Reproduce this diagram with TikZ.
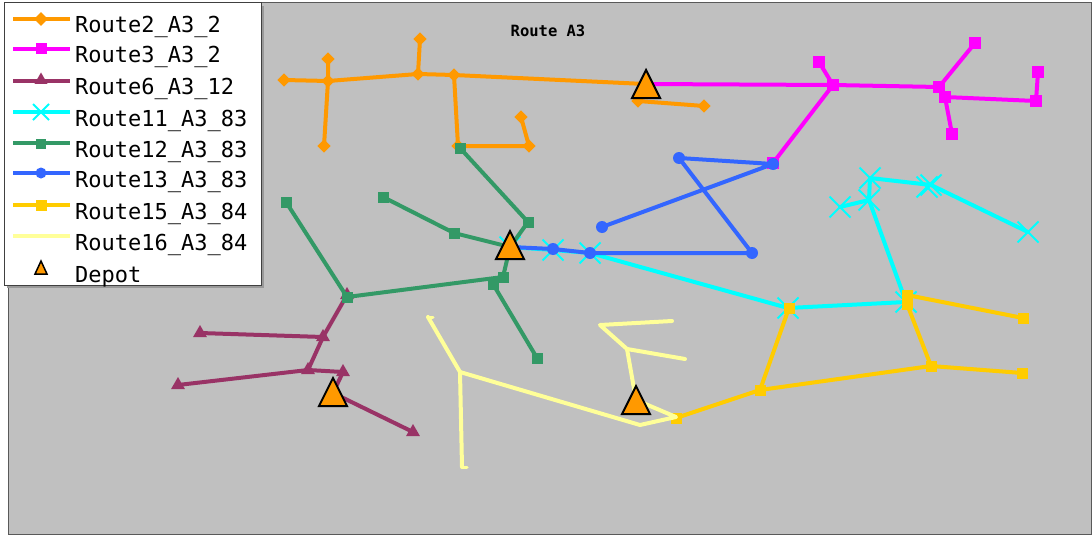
\documentclass[tikz,border=0pt]{standalone}
\usepackage{fontspec}
\newfontfamily\monof{DejaVu Sans Mono}
\usetikzlibrary{shapes.geometric,shapes.misc}
\definecolor{bgc}{HTML}{C0C0C0}
\definecolor{orgc}{HTML}{FF9900}
\definecolor{magc}{HTML}{FF00FF}
\definecolor{marc}{HTML}{993366}
\definecolor{cyac}{HTML}{00FFFF}
\definecolor{grnc}{HTML}{339966}
\definecolor{bluc}{HTML}{3366FF}
\definecolor{golc}{HTML}{FFCC00}
\definecolor{lyec}{HTML}{FFFF99}
\definecolor{depc}{HTML}{FF9900}
\tikzset{
  rt/.style={line width=4pt, line join=round, line cap=round},
  dia/.style={diamond, fill=orgc, inner sep=0pt, minimum size=13.5pt},
  sqm/.style={rectangle, fill=magc, inner sep=0pt, minimum size=11.5pt},
  trim/.style={regular polygon, regular polygon sides=3, fill=marc, inner sep=0pt, minimum size=16pt},
  xm/.style={cross out, draw=cyac, line width=2pt, inner sep=0pt, minimum size=19pt},
  sqg/.style={rectangle, fill=grnc, inner sep=0pt, minimum size=11pt},
  circb/.style={circle, fill=bluc, inner sep=0pt, minimum size=12pt},
  sqy/.style={rectangle, fill=golc, inner sep=0pt, minimum size=11pt},
  depot/.style={fill=depc, draw=black, line width=2pt, line join=miter},
  legtxt/.style={anchor=base west, inner sep=0pt, font=\monof\fontsize{22}{22}\selectfont},
}
\begin{document}
\begin{tikzpicture}[x=1pt,y=-1pt]
\useasboundingbox (0,0) rectangle (1092,535);
\fill[white] (0,0) rectangle (1092,535);
\filldraw[fill=bgc, draw=gray!70!black, line width=1pt] (8,3) rectangle (1091,534);
\node[inner sep=0pt, anchor=base, font=\monof\bfseries\fontsize{15.5}{15.5}\selectfont] (title) at (548,37) {Route A3};

% ---------- Route2 (orange)
\coordinate (o1) at (284,80);  \coordinate (o2) at (328,81);
\coordinate (o3) at (328,59);  \coordinate (o4) at (324,146);
\coordinate (o5) at (418,74);  \coordinate (o6) at (420,39);
\coordinate (o7) at (454,75);  \coordinate (o8) at (458,146);
\coordinate (o9) at (529,146); \coordinate (o10) at (521,117);
\coordinate (o11) at (645,84); \coordinate (o12) at (638,101);
\coordinate (o13) at (704,106);
\draw[rt, orgc] (o1) -- (o2) -- (o5) -- (o7) -- (o11) -- (o12) -- (o13);
\draw[rt, orgc] (o3) -- (o2) -- (o4);
\draw[rt, orgc] (o6) -- (o5);
\draw[rt, orgc] (o7) -- (o8) -- (o9) -- (o10);
\foreach \n in {o1,o2,o3,o4,o5,o6,o7,o8,o9,o10,o12,o13} \node[dia] (\n-m) at (\n) {};

% ---------- Route3 (magenta)
\coordinate (m0) at (646,84);  \coordinate (m1) at (833,85);
\coordinate (m2) at (819,62);  \coordinate (m3) at (773,163);
\coordinate (m4) at (939,87);  \coordinate (m5) at (975,43);
\coordinate (m6) at (945,97);  \coordinate (m7) at (952,134);
\coordinate (m8) at (1036,101); \coordinate (m9) at (1038,72);
\draw[rt, magc] (m0) -- (m1) -- (m4) -- (m6) -- (m8) -- (m9);
\draw[rt, magc] (m2) -- (m1) -- (m3);
\draw[rt, magc] (m4) -- (m5);
\draw[rt, magc] (m6) -- (m7);
\foreach \n in {m1,m2,m3,m4,m5,m6,m7,m8,m9} \node[sqm] (\n-m) at (\n) {};

% ---------- Route6 (maroon)
\coordinate (r1) at (347,295); \coordinate (r2) at (323,337);
\coordinate (r3) at (200,333); \coordinate (r4) at (308,370);
\coordinate (r5) at (178,385); \coordinate (r6) at (343,372);
\coordinate (r7) at (333,393); \coordinate (r8) at (413,432);
\draw[rt, marc] (r1) -- (r2) -- (r4) -- (r6) -- (r7) -- (r8);
\draw[rt, marc] (r2) -- (r3);
\draw[rt, marc] (r4) -- (r5);
\foreach \n in {r1,r2,r3,r4,r5,r6,r8} \node[trim] (\n-m) at (\n) {};

% ---------- Route11 (cyan)
\coordinate (c0) at (510,247); \coordinate (c1) at (553,250);
\coordinate (c2) at (590,253); \coordinate (c3) at (788,308);
\coordinate (c4) at (906,302); \coordinate (c5) at (869,200);
\coordinate (c6) at (840,207); \coordinate (c7) at (870,178);
\coordinate (c8) at (931,185); \coordinate (c8b) at (927,187);
\coordinate (c9) at (1028,232);
\draw[rt, cyac] (c0) -- (c1) -- (c2) -- (c3) -- (c4) -- (c5) -- (c6);
\draw[rt, cyac] (c5) -- (c7) -- (c8) -- (c9);
\foreach \n in {c0,c1,c2,c3,c4,c5,c6,c7,c8,c8b,c9} \node[xm] (\n-m) at (\n) {};

% ---------- Route12 (green)
\coordinate (g0) at (510,247); \coordinate (g1) at (286,202);
\coordinate (g2) at (347,297); \coordinate (g3) at (503,277);
\coordinate (g4) at (493,284); \coordinate (g5) at (537,358);
\coordinate (g6) at (454,233); \coordinate (g7) at (383,197);
\coordinate (g8) at (528,222); \coordinate (g9) at (460,148);
\draw[rt, grnc] (g9) -- (g8) -- (g0) -- (g6) -- (g7);
\draw[rt, grnc] (g0) -- (g3) -- (g2) -- (g1);
\draw[rt, grnc] (g3) -- (g4) -- (g5);
\foreach \n in {g1,g2,g3,g4,g5,g6,g7,g8,g9} \node[sqg] (\n-m) at (\n) {};

% ---------- Route13 (blue)
\coordinate (b0) at (510,247); \coordinate (b1) at (553,249);
\coordinate (b2) at (590,253); \coordinate (b3) at (752,253);
\coordinate (b4) at (679,158); \coordinate (b5) at (773,164);
\coordinate (b6) at (602,227);
\draw[rt, bluc] (b0) -- (b1) -- (b2) -- (b3) -- (b4) -- (b5) -- (b6);
\foreach \n in {b1,b2,b3,b4,b5,b6} \node[circb] (\n-m) at (\n) {};

% ---------- Route15 (gold)
\coordinate (y1) at (676,418); \coordinate (y2) at (760,390);
\coordinate (y3) at (789,308); \coordinate (y4) at (931,366);
\coordinate (y5) at (1022,373); \coordinate (y6) at (907,304);
\coordinate (y7) at (907,295); \coordinate (y8) at (1023,318);
\draw[rt, golc] (y1) -- (y2) -- (y3);
\draw[rt, golc] (y2) -- (y4) -- (y5);
\draw[rt, golc] (y4) -- (y6) -- (y7) -- (y8);
\foreach \n in {y1,y2,y3,y4,y5,y6,y7,y8} \node[sqy] (\n-m) at (\n) {};

% ---------- Route16 (light yellow)
\coordinate (l1) at (428,317); \coordinate (l2) at (460,372);
\coordinate (l3) at (462,467); \coordinate (l4) at (640,425);
\coordinate (l5) at (676,417); \coordinate (l6) at (636,400);
\coordinate (l7) at (627,349); \coordinate (l8) at (600,325);
\coordinate (l9) at (672,321); \coordinate (l10) at (685,359);
\draw[rt, lyec] (l1) -- (l2) -- (l3);
\draw[rt, lyec] (l2) -- (l4) -- (l5) -- (l6) -- (l7) -- (l8) -- (l9);
\draw[rt, lyec] (l7) -- (l10);
\draw[rt, lyec, line width=3pt] (l1) -- ++(5,0);
\draw[rt, lyec, line width=3pt] (l3) -- ++(5,0);

% ---------- Depots
\coordinate (d1) at (646,86);
\coordinate (d2) at (510,247);
\coordinate (d3) at (333,394);
\coordinate (d4) at (636,402);
\foreach \d in {d1,d2,d3,d4}
  \draw[depot] (\d) ++(-14,12) -- ++(28,0) -- ++(-14,-28) -- cycle;

% ---------- Legend
\fill[gray!80] (7,6) rectangle (264,288);
\filldraw[fill=white, draw=gray!50!black, line width=1pt] (4,3) rectangle (261,285);
\draw[rt, orgc, line cap=butt] (13,19) coordinate (k1a) -- (70,19) coordinate (k1b);
\node[dia, minimum size=14pt] (k1m) at (41,19) {};
\node[legtxt] (k1t) at (75,33) {Route2\_A3\_2};
\draw[rt, magc, line cap=butt] (13,49) coordinate (k2a) -- (70,49) coordinate (k2b);
\node[sqm, minimum size=11pt] (k2m) at (41,49) {};
\node[legtxt] (k2t) at (75,63) {Route3\_A3\_2};
\draw[rt, marc, line cap=butt] (13,81) coordinate (k3a) -- (70,81) coordinate (k3b);
\node[trim, minimum size=15pt] (k3m) at (41,80) {};
\node[legtxt] (k3t) at (75,95) {Route6\_A3\_12};
\draw[rt, cyac, line cap=butt] (13,112) coordinate (k4a) -- (70,112) coordinate (k4b);
\node[xm, minimum size=14pt] (k4m) at (41,112) {};
\node[legtxt] (k4t) at (75,126) {Route11\_A3\_83};
\draw[rt, grnc, line cap=butt] (13,143) coordinate (k5a) -- (70,143) coordinate (k5b);
\node[sqg, minimum size=10pt] (k5m) at (41,144) {};
\node[legtxt] (k5t) at (75,157) {Route12\_A3\_83};
\draw[rt, bluc, line cap=butt] (13,173) coordinate (k6a) -- (70,173) coordinate (k6b);
\node[circb, minimum size=11pt] (k6m) at (41,173) {};
\node[legtxt] (k6t) at (75,187) {Route13\_A3\_83};
\draw[rt, golc, line cap=butt] (13,205) coordinate (k7a) -- (70,205) coordinate (k7b);
\node[sqy, minimum size=11pt] (k7m) at (41,205) {};
\node[legtxt] (k7t) at (75,219) {Route15\_A3\_84};
\draw[rt, lyec, line cap=butt] (13,236) coordinate (k8a) -- (70,236) coordinate (k8b);
\node[legtxt] (k8t) at (75,250) {Route16\_A3\_84};
\coordinate (k9m) at (41,268);
\draw[depot, line width=1.5pt] (k9m) ++(-6,6) -- ++(12,0) -- ++(-6,-13) -- cycle;
\node[legtxt] (k9t) at (75,282) {Depot};
\end{tikzpicture}
\end{document}
